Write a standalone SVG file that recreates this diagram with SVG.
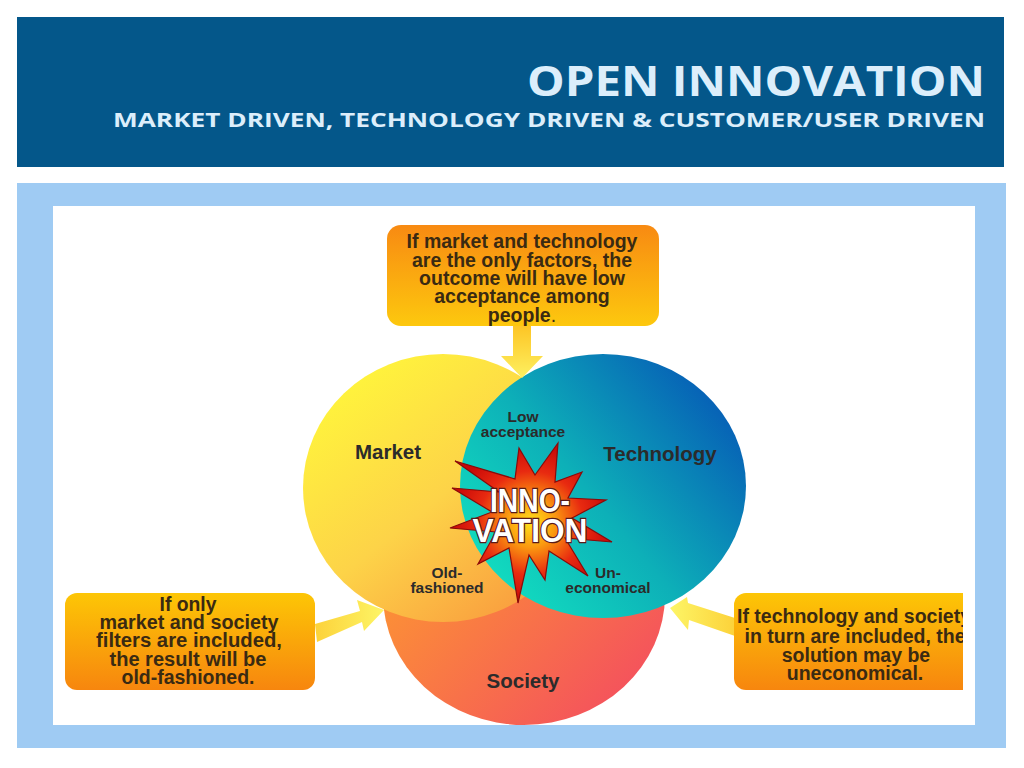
<svg xmlns="http://www.w3.org/2000/svg" width="1024" height="768" viewBox="0 0 1024 768">
<style>
.title{font-family:"Open Sans","DejaVu Sans",sans-serif;font-weight:700;fill:#dceefb;}
.box{font-family:"Liberation Sans",Arial,sans-serif;font-weight:bold;font-size:19.5px;fill:#3a2a12;text-anchor:middle;}
.lbl{font-family:"Liberation Sans",Arial,sans-serif;font-weight:bold;fill:#2b2b2b;text-anchor:middle;}
.big{font-size:20.5px;}
.small{font-size:15.5px;}
.inno{font-family:"Liberation Sans",Arial,sans-serif;font-weight:bold;font-size:33px;fill:#ffffff;stroke:#5a1a1a;stroke-width:2.4;paint-order:stroke;text-anchor:middle;}
</style>
<defs>
<linearGradient id="gMarket" x1="0.15" y1="0.1" x2="0.85" y2="0.95">
<stop offset="0" stop-color="#fff43c"/><stop offset="0.5" stop-color="#fdd348"/><stop offset="1" stop-color="#f99a3e"/>
</linearGradient>
<linearGradient id="gTech" x1="0.05" y1="0.85" x2="0.95" y2="0.15">
<stop offset="0" stop-color="#12e0c0"/><stop offset="0.45" stop-color="#0db0b8"/><stop offset="1" stop-color="#0659b6"/>
</linearGradient>
<linearGradient id="gSoc" x1="0.1" y1="0.2" x2="0.9" y2="0.9">
<stop offset="0" stop-color="#fd9a30"/><stop offset="1" stop-color="#f4505e"/>
</linearGradient>
<linearGradient id="gTop" x1="0" y1="0" x2="0" y2="1">
<stop offset="0" stop-color="#f88a12"/><stop offset="1" stop-color="#fdc80e"/>
</linearGradient>
<linearGradient id="gSide" x1="0" y1="0" x2="0" y2="1">
<stop offset="0" stop-color="#fdc606"/><stop offset="1" stop-color="#f7860e"/>
</linearGradient>
<linearGradient id="gArrowL" x1="0" y1="0" x2="1" y2="0">
<stop offset="0" stop-color="#fcd23a"/><stop offset="1" stop-color="#fdf566"/>
</linearGradient>
<linearGradient id="gArrowR" x1="1" y1="0" x2="0" y2="0">
<stop offset="0" stop-color="#fcd23a"/><stop offset="1" stop-color="#fdf566"/>
</linearGradient>
<linearGradient id="gArrowT" x1="0" y1="0" x2="0" y2="1">
<stop offset="0" stop-color="#fdc525"/><stop offset="1" stop-color="#fdf060"/>
</linearGradient>
<radialGradient id="gStar" cx="0.5" cy="0.5" r="0.5">
<stop offset="0" stop-color="#ffe21a"/><stop offset="0.3" stop-color="#fb9a10"/><stop offset="0.65" stop-color="#e82a10"/><stop offset="1" stop-color="#c80808"/>
</radialGradient>
<clipPath id="clipR"><rect x="700" y="580" width="263" height="120"/></clipPath>
</defs>

<rect x="0" y="0" width="1024" height="768" fill="#ffffff"/>
<g id="header">
<rect x="17" y="17" width="987" height="150" fill="#04578a"/>
<text class="title" x="985" y="96" font-size="42" text-anchor="end" textLength="458" lengthAdjust="spacingAndGlyphs">OPEN INNOVATION</text>
<text class="title" x="985" y="127" font-size="19" text-anchor="end" textLength="872" lengthAdjust="spacingAndGlyphs">MARKET DRIVEN, TECHNOLOGY DRIVEN &amp; CUSTOMER/USER DRIVEN</text>
</g>
<g id="panel">
<rect x="17" y="183" width="989" height="565" fill="#9fcbf3"/>
<rect x="53" y="206" width="922" height="519" fill="#ffffff"/>
</g>

<g id="society">
<ellipse cx="524" cy="595" rx="141" ry="130" fill="url(#gSoc)"/>
<text class="lbl big" x="523" y="688">Society</text>
</g>
<g id="market">
<ellipse cx="443" cy="488" rx="140" ry="134" fill="url(#gMarket)"/>
<text class="lbl big" x="388" y="459">Market</text>
</g>
<g id="technology">
<ellipse cx="603" cy="486" rx="143" ry="132" fill="url(#gTech)"/>
<text class="lbl big" x="660" y="461">Technology</text>
</g>

<g id="labels">
<text class="lbl small" x="523" y="422">Low</text>
<text class="lbl small" x="523" y="437">acceptance</text>
<text class="lbl small" x="447" y="578">Old-</text>
<text class="lbl small" x="447" y="593">fashioned</text>
<text class="lbl small" x="608" y="578">Un-</text>
<text class="lbl small" x="608" y="593">economical</text>
</g>

<g id="innovation">
<polygon points="558,443 555,482 582,472 568,498 606,500 572,518 612,542 565,538 588,576 549,551 545,580 529,555 518,603 509,548 478,564 496,532 450,528 492,512 452,488 499,492 455,461 515,479 519,448 535,475" fill="url(#gStar)" stroke="#8a0a0a" stroke-width="1.2" stroke-linejoin="miter"/>
<text class="inno" x="530" y="512" textLength="80" lengthAdjust="spacingAndGlyphs">INNO-</text>
<text class="inno" x="530" y="542" textLength="115" lengthAdjust="spacingAndGlyphs">VATION</text>
</g>

<g id="connectors">
<polygon points="513,326 531,326 531,356 543,356 522,378 501,356 513,356" fill="url(#gArrowT)"/>
<polygon points="315,624 360,611 357,600 384,610 364,631 362,622 317,642" fill="url(#gArrowL)"/>
<polygon points="735,618 688,603 687,597 670,608 688,630 689,620 735,636" fill="url(#gArrowR)"/>
</g>

<g id="box-top">
<rect x="387" y="225" width="272" height="101" rx="14" fill="url(#gTop)"/>
<text class="box" x="522" y="248">If market and technology</text>
<text class="box" x="522" y="267">are the only factors, the</text>
<text class="box" x="522" y="285">outcome will have low</text>
<text class="box" x="522" y="303">acceptance among</text>
<text class="box" x="522" y="322">people<tspan font-weight="normal">.</tspan></text>
</g>

<g id="box-left">
<rect x="65" y="593" width="250" height="97" rx="12" fill="url(#gSide)"/>
<text class="box" x="188" y="611" textLength="57" lengthAdjust="spacingAndGlyphs">If only</text>
<text class="box" x="189" y="629" textLength="179" lengthAdjust="spacingAndGlyphs">market and society</text>
<text class="box" x="189" y="647" textLength="186" lengthAdjust="spacingAndGlyphs">filters are included,</text>
<text class="box" x="188" y="666" textLength="157" lengthAdjust="spacingAndGlyphs">the result will be</text>
<text class="box" x="188" y="684" textLength="133" lengthAdjust="spacingAndGlyphs">old-fashioned.</text>
</g>

<g id="box-right" clip-path="url(#clipR)">
<rect x="734" y="593" width="260" height="97" rx="12" fill="url(#gSide)"/>
<text class="box" x="854" y="623">If technology and society</text>
<text class="box" x="855" y="643">in turn are included, the</text>
<text class="box" x="856" y="662">solution may be</text>
<text class="box" x="855" y="680">uneconomical.</text>
</g>
</svg>
